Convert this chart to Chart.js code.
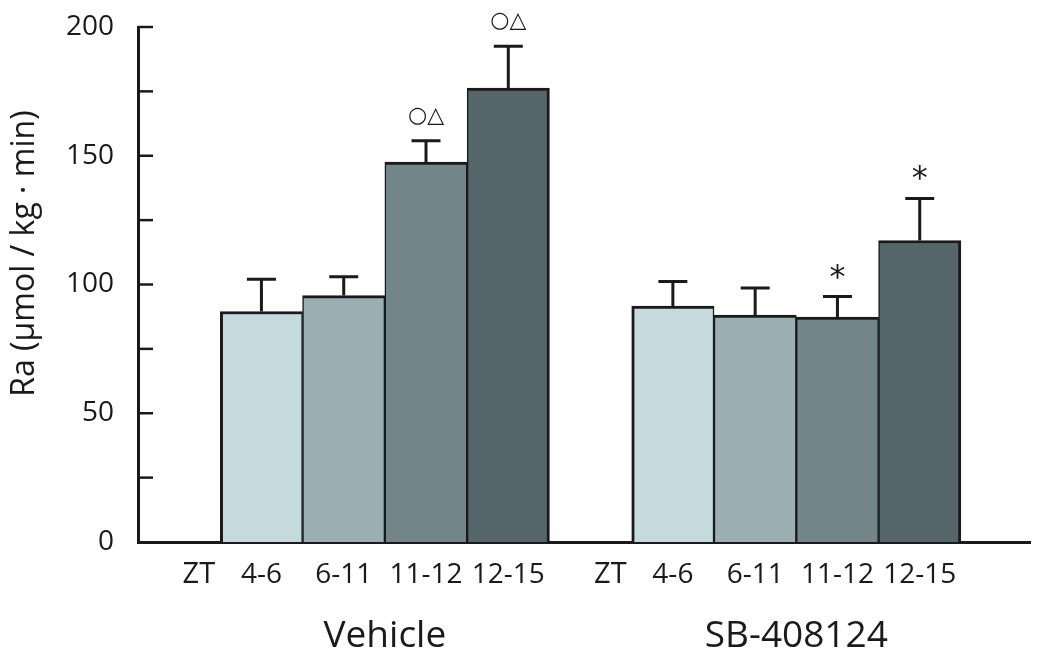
<!DOCTYPE html>
<html>
<head>
<meta charset="utf-8">
<script src="https://cdn.jsdelivr.net/npm/chart.js@4.4.1/dist/chart.umd.min.js"></script>
<style>
  html, body { margin: 0; padding: 0; background: #fff; }
  #wrap { width: 1050px; height: 657px; }
</style>
</head>
<body>
<div id="wrap"><canvas id="c"></canvas></div>
<script>
// ---- data ----
const windows = ['4-6', '6-11', '11-12', '12-15'];
const groups = ['Vehicle', 'SB-408124'];
const vehicleMean = [89.5, 95.7, 147.5, 176.3];
const vehicleErr = [12.5, 7.3, 8.3, 16.2];
const vehicleMarks = ['', '', '○△', '○△'];
const sbMean = [91.6, 88.1, 87.3, 117.1];
const sbErr = [9.6, 10.5, 8.0, 16.3];
const sbMarks = ['', '', '*', '*'];
const yLabels = [0, 50, 100, 150, 200];
const fills = ['#c4dadd', '#9bafb3', '#72868a', '#54666a'];

const ink = '#1a1a1a';
const FONT = "'Open Sans', sans-serif";

// each group takes 4 slots plus one empty slot in front
const means = [...vehicleMean, ...sbMean];
const errs = [...vehicleErr, ...sbErr];
const marks = [...vehicleMarks, ...sbMarks];
const xs = [];
groups.forEach((g, gi) => windows.forEach((w, wi) => xs.push(gi * 5 + wi + 1)));

const extras = {
  id: 'extras',
  afterDatasetsDraw(chart) {
    const { ctx, chartArea, scales: { y } } = chart;
    const meta = chart.getDatasetMeta(0);
    ctx.save();
    ctx.strokeStyle = ink; ctx.fillStyle = ink;
    ctx.lineWidth = 3; ctx.lineCap = 'butt';
    meta.data.forEach((bar, i) => {
      const top = y.getPixelForValue(means[i] + errs[i]);
      ctx.beginPath();
      ctx.moveTo(bar.x, bar.y); ctx.lineTo(bar.x, top);
      ctx.moveTo(bar.x - 14.5, top); ctx.lineTo(bar.x + 14.5, top);
      ctx.stroke();
      if (marks[i] === '*') {
        ctx.font = "32px 'DejaVu Sans'";
        ctx.textAlign = 'center'; ctx.textBaseline = 'alphabetic';
        ctx.fillText('*', bar.x, top - 10);
      } else if (marks[i]) {
        ctx.font = "bold 22px 'DejaVu Sans'";
        ctx.textAlign = 'center'; ctx.textBaseline = 'middle';
        ctx.fillText(marks[i], bar.x, top - 25);
      }
    });
    // inward minor/major ticks on the y axis
    ctx.lineWidth = 2.5;
    y.ticks.forEach(t => {
      if (t.value === 0) return;
      const py = y.getPixelForValue(t.value);
      ctx.beginPath();
      ctx.moveTo(chartArea.left, py); ctx.lineTo(chartArea.left + 15, py);
      ctx.stroke();
    });
    ctx.restore();
  },
  afterDraw(chart) {
    const { ctx, chartArea, scales: { x, y } } = chart;
    ctx.save();
    ctx.fillStyle = ink;
    ctx.textAlign = 'center'; ctx.textBaseline = 'middle';
    // "ZT" prefix in front of each group's first window
    ctx.font = '29px ' + FONT;
    groups.forEach((g, gi) => ctx.fillText('ZT', x.getPixelForValue(gi * 5 + 0.24), chartArea.bottom + 33));
    // group names
    ctx.font = '37px ' + FONT;
    groups.forEach((g, gi) => ctx.fillText(g, x.getPixelForValue(gi * 5 + 2.5), chartArea.bottom + 94));
    // y title
    ctx.translate(25, y.getPixelForValue(112));
    ctx.rotate(-Math.PI / 2);
    ctx.font = '32px ' + FONT;
    ctx.fillText('Ra (μmol / kg · min)', 0, 0);
    ctx.restore();
  }
};

new Chart(document.getElementById('c'), {
  type: 'bar',
  data: {
    datasets: [{
      data: xs.map((v, i) => ({ x: v, y: means[i] })),
      backgroundColor: xs.map((v, i) => fills[i % 4]),
      borderColor: ink,
      borderWidth: c => {
        const k = c.dataIndex % 4;
        return { top: 3, bottom: 0, left: k === 0 ? 3 : 1.5, right: k === 3 ? 3 : 1.5 };
      },
      barPercentage: 1, categoryPercentage: 1
    }]
  },
  options: {
    responsive: true, maintainAspectRatio: false, animation: false,
    layout: { padding: { top: 27, right: 20, bottom: 0, left: 0 } },
    plugins: { legend: { display: false }, tooltip: { enabled: false } },
    scales: {
      x: {
        type: 'linear', min: -0.5, max: 10.34, offset: false,
        afterBuildTicks: s => { s.ticks = xs.map(v => ({ value: v })); },
        afterFit: s => { s.height = 115; },
        grid: { display: false, drawTicks: false },
        border: { color: ink, width: 3 },
        ticks: {
          autoSkip: false, maxRotation: 0, padding: 16, color: ink,
          font: { family: FONT, size: 28 },
          callback: (v, i) => windows[i % 4]
        }
      },
      y: {
        min: 0, max: 200,
        afterFit: s => { s.width = 138; s.paddingTop = 0; s.paddingBottom = 0; },
        grid: { display: false, drawTicks: false },
        border: { color: ink, width: 3 },
        ticks: {
          stepSize: 25, padding: 24, color: ink,
          font: { family: FONT, size: 28 },
          callback: v => yLabels.includes(v) ? v : ''
        }
      }
    }
  },
  plugins: [extras]
});
</script>
</body>
</html>
